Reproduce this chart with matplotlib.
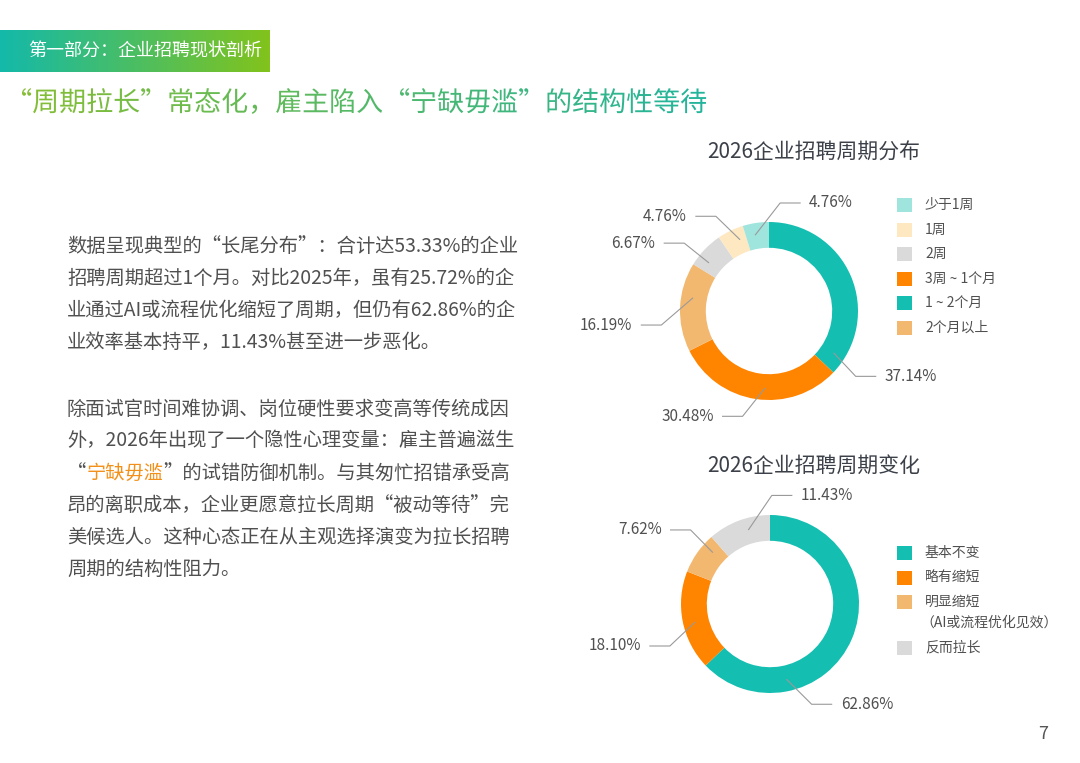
import numpy as np
import matplotlib
matplotlib.use('Agg')
import matplotlib.pyplot as plt
from matplotlib.colors import LinearSegmentedColormap
from matplotlib.font_manager import FontProperties
from matplotlib.patches import PathPatch, Rectangle
from matplotlib.textpath import TextPath
from matplotlib.transforms import Affine2D

FONT = ['Noto Sans CJK SC', 'DejaVu Sans']
plt.rcParams['font.family'] = FONT

W, H = 1080, 763
TEAL, ORANGE, LT_ORANGE = '#14BEB1', '#FF8400', '#F2B870'
GREY, CREAM, LT_TEAL = '#DADADA', '#FDE8C2', '#9FE4DD'
INK, INK2, LINE, HILITE = '#505050', '#3c4048', '#9a9a9a', '#F39019'

SECTION = '第一部分：企业招聘现状剖析'
HEADLINE = '“周期拉长”常态化，雇主陷入“宁缺毋滥”的结构性等待'
PARA1 = [
    '数据呈现典型的“长尾分布”：合计达53.33%的企业',
    '招聘周期超过1个月。对比2025年，虽有25.72%的企',
    '业通过AI或流程优化缩短了周期，但仍有62.86%的企',
    '业效率基本持平，11.43%甚至进一步恶化。',
]
# (text, highlighted) runs per line
PARA2 = [
    [('除面试官时间难协调、岗位硬性要求变高等传统成因', False)],
    [('外，2026年出现了一个隐性心理变量：雇主普遍滋生', False)],
    [('“', False), ('宁缺毋滥', True), ('”的试错防御机制。与其匆忙招错承受高', False)],
    [('昂的离职成本，企业更愿意拉长周期“被动等待”完', False)],
    [('美候选人。这种心态正在从主观选择演变为拉长招聘', False)],
    [('周期的结构性阻力。', False)],
]
PAGE = '7'

# chart 1: cycle distribution (legend order)
DIST_TITLE = '2026企业招聘周期分布'
DIST_CATS = ['少于1周', '1周', '2周', '3周 ~ 1个月', '1 ~ 2个月', '2个月以上']
DIST_VALS = [4.76, 4.76, 6.67, 30.48, 37.14, 16.19]
DIST_COLORS = [LT_TEAL, CREAM, GREY, ORANGE, TEAL, LT_ORANGE]
DIST_ORDER = [4, 3, 5, 2, 1, 0]  # clockwise from 12 o'clock

# chart 2: cycle change vs 2025
CHG_TITLE = '2026企业招聘周期变化'
CHG_CATS = ['基本不变', '略有缩短', '明显缩短\n（AI或流程优化见效）', '反而拉长']
CHG_VALS = [62.86, 18.10, 7.62, 11.43]
CHG_COLORS = [TEAL, ORANGE, LT_ORANGE, GREY]
CHG_ORDER = [0, 1, 2, 3]

fig = plt.figure(figsize=(W / 100, H / 100), dpi=100)
ax = fig.add_axes([0, 0, 1, 1])
ax.set_xlim(0, W); ax.set_ylim(H, 0); ax.axis('off')

# section tab with gradient
grad = np.linspace(0, 1, 256).reshape(1, -1)
ax.imshow(grad, cmap=LinearSegmentedColormap.from_list('tab', ['#14B9AA', '#82C31C']),
          extent=[0, 270, 72, 30], aspect='auto', zorder=1)
ax.text(28, 51, SECTION, color='white', fontsize=13, va='center', zorder=2)

# gradient headline via text path clip
fp = FontProperties(family='Noto Sans CJK SC', size=27)
tp = TextPath((0, 0), HEADLINE, size=27, prop=fp)
ext = tp.get_extents()
patch = PathPatch(tp, transform=Affine2D().scale(1, -1).translate(22 - ext.x0, 111) + ax.transData,
                  facecolor='none', edgecolor='none')
renderer = fig.canvas.get_renderer()
bb = patch.get_window_extent(renderer=renderer)
im = ax.imshow(grad, cmap=LinearSegmentedColormap.from_list('hd', ['#86BE34', '#22B49D']),
               extent=[bb.x0 - 2, bb.x1 + 2, 130, 75], aspect='auto', zorder=2)
im.set_clip_path(patch)

# body text
for i, line in enumerate(PARA1):
    ax.text(67, 246 + 32 * i, line, color=INK, fontsize=13.9, va='center')


def width(s):
    t = ax.text(0, 0, s, fontsize=13.9)
    w = t.get_window_extent(renderer=renderer).width
    t.remove()
    return w


for i, runs in enumerate(PARA2):
    prefix = ''
    for s, hot in runs:
        x = 67 + (width(prefix + s) - width(s) if prefix else 0)
        ax.text(x, 409 + 32 * i, s, color=HILITE if hot else INK, fontsize=13.9, va='center')
        prefix += s

ax.text(1043, 734, PAGE, color='#555555', fontsize=13, ha='center', va='center')


def donut(cx, cy, r, vals, colors, fracs, nudges):
    dax = fig.add_axes([(cx - 1.25 * r) / W, 1 - (cy + 1.25 * r) / H, 2.5 * r / W, 2.5 * r / H])
    dax.pie(vals, colors=colors, startangle=90, counterclock=False, radius=1,
            wedgeprops=dict(width=0.29, linewidth=0))
    dax.set_xlim(-1.25, 1.25); dax.set_ylim(-1.25, 1.25)
    total = sum(vals)
    start = 90.0
    for v, f, n in zip(vals, fracs, nudges):
        span = 360 * v / total
        a = np.radians(start - f * span)
        e = np.radians(start - f * span + n)
        x0, y0 = 0.87 * np.cos(a), 0.87 * np.sin(a)
        x1, y1 = 1.22 * np.cos(e), 1.22 * np.sin(e)
        side = 1 if np.cos(e) >= 0 else -1
        x2 = x1 + side * 20 / r
        dax.plot([x0, x1, x2], [y0, y1, y1], color=LINE, lw=0.8, clip_on=False)
        dax.text(x2 + side * 9 / r, y1, f'{v:.2f}%', color=INK, fontsize=11,
                 ha='left' if side > 0 else 'right', va='center', clip_on=False)
        start -= span


def legend(x, y0, cats, colors, step=24.5, sub=21):
    y = y0
    for c, col in zip(cats, colors):
        ax.add_patch(Rectangle((x, y - 7), 15, 14, color=col, lw=0))
        for k, part in enumerate(c.split('\n')):
            ax.text(x + 28 - (5 if part.startswith('（') else 0), y + sub * k, part,
                    color=INK, fontsize=10, va='center')
        y += step + sub * c.count('\n')


ax.text(814, 153, DIST_TITLE, color=INK2, fontsize=15, ha='center', va='center')
donut(769, 311, 89, [DIST_VALS[i] for i in DIST_ORDER], [DIST_COLORS[i] for i in DIST_ORDER],
      [0.92, 0.45, 0.62, 0.29, 0.7, 0.41], [-4, -11, 17, 0, 7, -16])
legend(897, 205, DIST_CATS, DIST_COLORS)

ax.text(814, 466, CHG_TITLE, color=INK2, fontsize=15, ha='center', va='center')
donut(770, 604, 89, [CHG_VALS[i] for i in CHG_ORDER], [CHG_COLORS[i] for i in CHG_ORDER],
      [0.74, 0.46, 0.75, 0.61], [10, 9, -1, -17])
legend(897, 553, CHG_CATS, CHG_COLORS)

fig.savefig('out.png', dpi=100, facecolor='white')
